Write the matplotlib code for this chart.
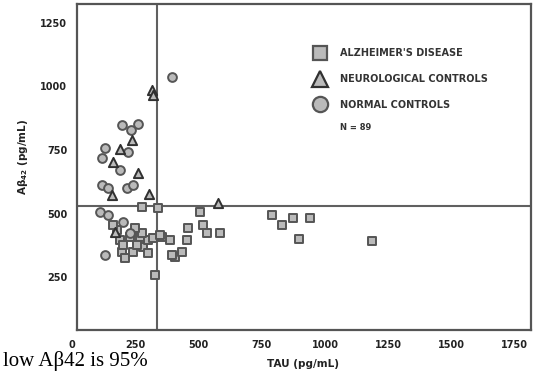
import matplotlib
matplotlib.use("Agg")
import matplotlib.pyplot as plt
from matplotlib.lines import Line2D
from matplotlib.transforms import blended_transform_factory

plt.rcParams['mathtext.default'] = 'bf'

# ---- data (TAU pg/mL, Abeta42 pg/mL) ----
ad_tau = [276, 341, 506, 460, 453, 519, 533, 585, 388, 407, 434, 328, 355,
          789, 829, 875, 941, 898, 1185,
          197, 210, 243, 282, 302, 269, 302, 276, 230, 190, 177, 164, 249,
          203, 256, 322, 348, 394]
ad_ab = [528, 521, 508, 443, 397, 456, 423, 423, 397, 332, 351, 260, 410,
         495, 456, 482, 482, 400, 394,
         351, 325, 351, 371, 345, 410, 397, 423, 410, 397, 436, 456, 443,
         377, 377, 404, 417, 338]

nc_tau = [394, 197, 262, 233, 131, 223, 118, 190, 118, 143, 216, 241,
          111, 143, 203, 131, 230]
nc_ab = [1035, 848, 852, 828, 760, 743, 717, 672, 613, 601, 600, 613,
         508, 495, 469, 338, 424]

neuro_tau = [315, 320, 236, 190, 164, 262, 157, 306, 578, 170]
neuro_ab = [986, 966, 789, 753, 704, 659, 574, 577, 541, 430]

tau_cut = 336
ab_cut = 530

x_ticks = [0, 250, 500, 750, 1000, 1250, 1500, 1750]
y_ticks = [250, 500, 750, 1000, 1250]

legend_labels = ["ALZHEIMER'S DISEASE", "NEUROLOGICAL CONTROLS", "NORMAL CONTROLS"]

fill = '#bababa'
edge = '#555555'

fig = plt.figure(figsize=(5.43, 3.73), dpi=100)
ax = fig.add_axes([77/543, 1-330/373, (531-77)/543, (330-4)/373])
ax.set_xlim(20, 1814)
ax.set_ylim(44, 1323)

ax.axvline(tau_cut, color='#606060', lw=1.5, zorder=1)
ax.axhline(ab_cut, color='#606060', lw=1.5, zorder=1)

ax.scatter(ad_tau, ad_ab, marker='s', s=32, facecolor=fill, edgecolor=edge, linewidth=1.4, zorder=3)
ax.scatter(nc_tau, nc_ab, marker='o', s=40, facecolor=fill, edgecolor=edge, linewidth=1.4, zorder=3)
ax.scatter(neuro_tau, neuro_ab, marker='^', s=44, facecolor=fill, edgecolor='#303030', linewidth=1.4, zorder=4)

for sp in ax.spines.values():
    sp.set_color('#555555')
    sp.set_linewidth(1.6)

ax.set_xticks([])
ax.set_yticks(y_ticks)
ax.set_yticklabels([str(v) for v in y_ticks], fontsize=7, fontweight='bold', color='#222222')
ax.tick_params(axis='y', length=0, pad=7)

tr = blended_transform_factory(ax.transData, ax.transAxes)
for v in x_ticks:
    ax.text(v, -0.045, str(v), transform=tr, ha='center', va='center',
            fontsize=7, fontweight='bold', color='#222222', clip_on=False)

fig.text(303/543, 1-364/373, 'TAU (pg/mL)', ha='center', va='center',
         fontsize=7.5, fontweight='bold', color='#222222')
fig.text(23/543, 1-157/373, r'A$\beta_{42}$ (pg/mL)', rotation=90, ha='center', va='center',
         fontsize=7.5, fontweight='bold', color='#222222')

fig.text(3/543, 1-361/373, 'low A\u03b242 is 95%', ha='left', va='center',
         fontsize=15, family='Liberation Serif', color='black')

handles = [
    Line2D([], [], ls='none', marker='s', ms=10, mfc=fill, mec=edge, mew=1.6),
    Line2D([], [], ls='none', marker='^', ms=11, mfc=fill, mec='#303030', mew=1.6),
    Line2D([], [], ls='none', marker='o', ms=11, mfc=fill, mec=edge, mew=1.6),
]
leg = ax.legend(handles, legend_labels, loc='upper left', bbox_to_anchor=(0.51, 0.879),
                frameon=False, prop={'size': 7, 'weight': 'bold'},
                labelspacing=1.62, handletextpad=1.3, handlelength=1.4, borderpad=0)
for t in leg.get_texts():
    t.set_color('#333333')
ax.text((340-77)/454, (330-128)/326, 'N = 89', transform=ax.transAxes, ha='left', va='center',
        fontsize=6, fontweight='bold', color='#333333')

fig.savefig('out.png', dpi=100)
